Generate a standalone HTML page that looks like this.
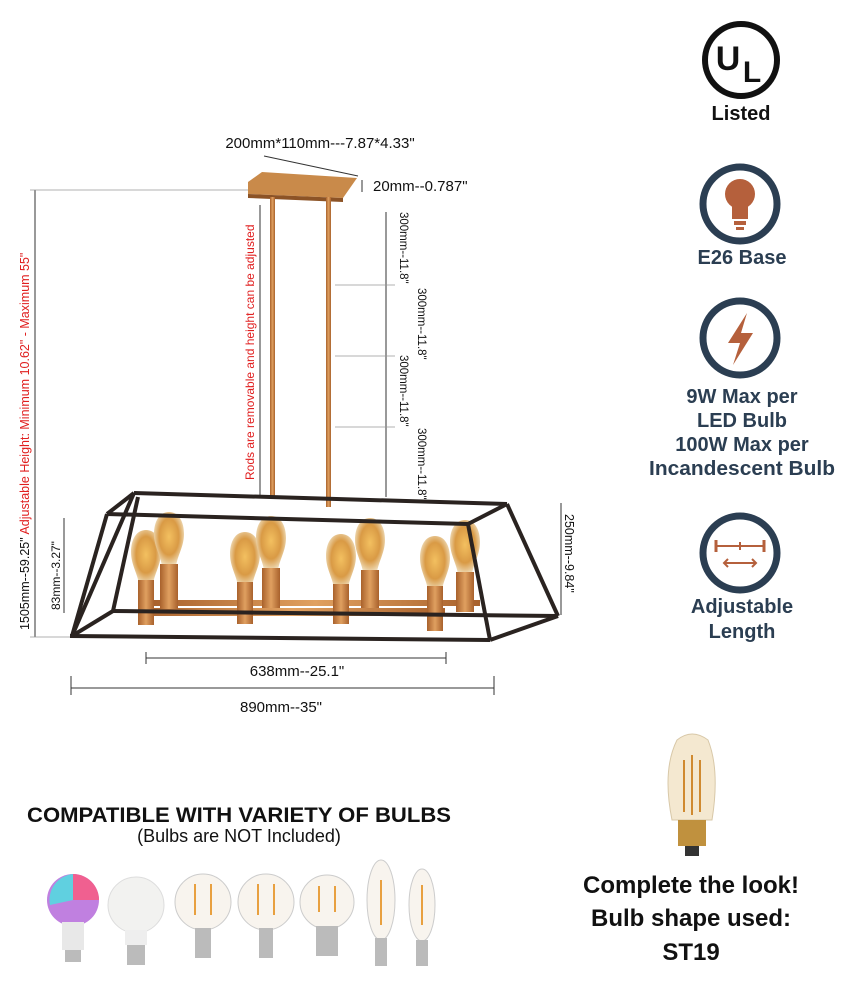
<!DOCTYPE html>
<html><head><meta charset="utf-8"><style>
body{margin:0;background:#fff;}
svg{display:block;}
text{font-family:"Liberation Sans",sans-serif;}
</style></head><body>
<svg width="858" height="990" viewBox="0 0 858 990" xmlns="http://www.w3.org/2000/svg">
<defs>
<radialGradient id="bulb" cx="50%" cy="45%" r="55%"><stop offset="0" stop-color="#f3c060"/><stop offset="0.6" stop-color="#d99a45"/><stop offset="1" stop-color="#f0e0c0"/></radialGradient>
<linearGradient id="brass" x1="0" x2="1"><stop offset="0" stop-color="#a8612c"/><stop offset="0.5" stop-color="#e0a060"/><stop offset="1" stop-color="#a8612c"/></linearGradient>
<path id="st" d="M0 -30 C-10 -30 -15 -20 -15 -8 C-15 5 -8 14 -7 25 L7 25 C8 14 15 5 15 -8 C15 -20 10 -30 0 -30Z"/>
</defs>

<!-- UL -->
<circle cx="741" cy="60" r="36" fill="none" stroke="#111" stroke-width="6"/>
<text x="728" y="70" font-size="34" font-weight="bold" fill="#111" text-anchor="middle">U</text>
<text x="752" y="82" font-size="30" font-weight="bold" fill="#111" text-anchor="middle">L</text>
<text x="741" y="120" font-size="20" font-weight="bold" fill="#111" text-anchor="middle">Listed</text>

<!-- E26 -->
<circle cx="740" cy="204" r="37" fill="#fff" stroke="#2b3e52" stroke-width="7"/>
<circle cx="740" cy="194" r="15" fill="#b5603c"/>
<rect x="732" y="205" width="16" height="14" fill="#b5603c"/>
<rect x="734" y="221" width="12" height="4" fill="#b5603c"/><rect x="736" y="227" width="8" height="3" fill="#b5603c"/>
<text x="742" y="264" font-size="20" font-weight="bold" fill="#2b3e52" text-anchor="middle">E26 Base</text>

<!-- power -->
<circle cx="740" cy="338" r="37" fill="#fff" stroke="#2b3e52" stroke-width="7"/>
<path d="M747 313 L728 343 L740 343 L733 365 L753 333 L741 333 Z" fill="#b5603c"/>
<text x="742" y="403" font-size="20" font-weight="bold" fill="#2b3e52" text-anchor="middle">9W Max per</text>
<text x="742" y="427" font-size="20" font-weight="bold" fill="#2b3e52" text-anchor="middle">LED Bulb</text>
<text x="742" y="451" font-size="20" font-weight="bold" fill="#2b3e52" text-anchor="middle">100W Max per</text>
<text x="742" y="475" font-size="20" font-weight="bold" fill="#2b3e52" text-anchor="middle" textLength="186" lengthAdjust="spacingAndGlyphs">Incandescent Bulb</text>

<!-- adjustable -->
<circle cx="740" cy="553" r="37" fill="#fff" stroke="#2b3e52" stroke-width="7"/>
<line x1="716" y1="546" x2="764" y2="546" stroke="#b5603c" stroke-width="2"/>
<line x1="716" y1="540" x2="716" y2="552" stroke="#b5603c" stroke-width="3"/><line x1="764" y1="540" x2="764" y2="552" stroke="#b5603c" stroke-width="3"/>
<line x1="740" y1="542" x2="740" y2="550" stroke="#b5603c" stroke-width="2"/>
<path d="M724 563 H756 M728 559 L724 563 L728 567 M752 559 L756 563 L752 567" stroke="#b5603c" stroke-width="2" fill="none"/>
<text x="742" y="613" font-size="20" font-weight="bold" fill="#2b3e52" text-anchor="middle">Adjustable</text>
<text x="742" y="638" font-size="20" font-weight="bold" fill="#2b3e52" text-anchor="middle">Length</text>

<!-- top dims -->
<text x="320" y="148" font-size="15" fill="#111" text-anchor="middle">200mm*110mm---7.87*4.33"</text>
<line x1="264" y1="156" x2="358" y2="176" stroke="#333" stroke-width="1"/>
<text x="373" y="191" font-size="15" fill="#111">20mm--0.787"</text>
<line x1="362" y1="180" x2="362" y2="192" stroke="#333"/>
<!-- canopy -->
<polygon points="248,182 262,172 357,178 343,198 248,194" fill="#c98a4a"/>
<polygon points="248,194 343,198 343,202 248,198" fill="#8c5326"/>
<rect x="270" y="197" width="5" height="300" fill="url(#brass)"/>
<rect x="326" y="197" width="5" height="310" fill="url(#brass)"/>

<!-- left dims -->
<line x1="35" y1="190" x2="35" y2="637" stroke="#333"/>
<line x1="30" y1="190" x2="248" y2="190" stroke="#999" stroke-width="0.7"/>
<line x1="30" y1="637" x2="70" y2="637" stroke="#999" stroke-width="0.7"/>
<text transform="translate(29,630) rotate(-90)" font-size="12.5"><tspan fill="#111">1505mm--59.25" </tspan><tspan fill="#e02020">Adjustable Height: Minimum 10.62"  -  Maximum 55"</tspan></text>
<line x1="260" y1="205" x2="260" y2="495" stroke="#333"/>
<text transform="translate(254,480) rotate(-90)" font-size="12" fill="#e02020">Rods are removable and height can be adjusted</text>
<line x1="64" y1="518" x2="64" y2="613" stroke="#333"/>
<text transform="translate(60,610) rotate(-90)" font-size="12" fill="#111">83mm--3.27"</text>

<!-- right rod dims -->
<line x1="386" y1="212" x2="386" y2="497" stroke="#333"/>
<g stroke="#999" stroke-width="0.7"><line x1="335" y1="285" x2="395" y2="285"/><line x1="335" y1="356" x2="395" y2="356"/><line x1="335" y1="427" x2="395" y2="427"/></g>
<text transform="translate(400,212) rotate(90)" font-size="11.5" fill="#111">300mm--11.8"</text>
<text transform="translate(418,288) rotate(90)" font-size="11.5" fill="#111">300mm--11.8"</text>
<text transform="translate(400,355) rotate(90)" font-size="11.5" fill="#111">300mm--11.8"</text>
<text transform="translate(418,428) rotate(90)" font-size="11.5" fill="#111">300mm--11.8"</text>
<line x1="561" y1="503" x2="561" y2="615" stroke="#333"/>
<text transform="translate(565,514) rotate(90)" font-size="12.5" fill="#111">250mm--9.84"</text>

<!-- inner brass frame -->
<g fill="url(#brass)">
<rect x="140" y="608" width="305" height="8"/>
<rect x="150" y="600" width="330" height="6" />
</g>
<!-- bulbs & sockets -->
<g>
<g transform="translate(146,560)"><use href="#st" fill="url(#bulb)"/><rect x="-8" y="20" width="16" height="45" fill="url(#brass)"/></g>
<g transform="translate(169,542)"><use href="#st" fill="url(#bulb)"/><rect x="-9" y="22" width="18" height="45" fill="url(#brass)"/></g>
<g transform="translate(245,562)"><use href="#st" fill="url(#bulb)"/><rect x="-8" y="20" width="16" height="42" fill="url(#brass)"/></g>
<g transform="translate(271,546)"><use href="#st" fill="url(#bulb)"/><rect x="-9" y="22" width="18" height="40" fill="url(#brass)"/></g>
<g transform="translate(341,564)"><use href="#st" fill="url(#bulb)"/><rect x="-8" y="20" width="16" height="40" fill="url(#brass)"/></g>
<g transform="translate(370,548)"><use href="#st" fill="url(#bulb)"/><rect x="-9" y="22" width="18" height="38" fill="url(#brass)"/></g>
<g transform="translate(435,566)"><use href="#st" fill="url(#bulb)"/><rect x="-8" y="20" width="16" height="45" fill="url(#brass)"/></g>
<g transform="translate(465,550)"><use href="#st" fill="url(#bulb)"/><rect x="-9" y="22" width="18" height="40" fill="url(#brass)"/></g>
</g>
<!-- black frame -->
<g stroke="#2a2320" stroke-width="4" fill="none" stroke-linejoin="round">
<line x1="134" y1="493" x2="507" y2="504"/>
<line x1="107" y1="514" x2="468" y2="524"/>
<line x1="113" y1="611" x2="558" y2="616"/>
<line x1="70" y1="636" x2="490" y2="640"/>
<line x1="134" y1="493" x2="72" y2="636"/>
<line x1="134" y1="493" x2="107" y2="514"/>
<line x1="107" y1="514" x2="72" y2="636"/>
<line x1="138" y1="497" x2="113" y2="611"/>
<line x1="507" y1="504" x2="558" y2="616"/>
<line x1="507" y1="504" x2="468" y2="524"/>
<line x1="468" y1="524" x2="490" y2="640"/>
<line x1="558" y1="616" x2="490" y2="640"/>
<line x1="113" y1="611" x2="72" y2="636"/>
</g>

<!-- bottom dims -->
<line x1="146" y1="658" x2="446" y2="658" stroke="#333"/>
<line x1="146" y1="652" x2="146" y2="664" stroke="#333"/><line x1="446" y1="652" x2="446" y2="664" stroke="#333"/>
<text x="297" y="676" font-size="15" fill="#111" text-anchor="middle">638mm--25.1"</text>
<line x1="71" y1="688" x2="494" y2="688" stroke="#333"/>
<line x1="71" y1="676" x2="71" y2="695" stroke="#333"/><line x1="494" y1="676" x2="494" y2="695" stroke="#333"/>
<text x="281" y="712" font-size="15" fill="#111" text-anchor="middle">890mm--35"</text>

<!-- compatible -->
<text x="239" y="822" font-size="21" font-weight="bold" fill="#111" text-anchor="middle" textLength="424" lengthAdjust="spacingAndGlyphs">COMPATIBLE WITH VARIETY OF BULBS</text>
<text x="239" y="842" font-size="18" fill="#111" text-anchor="middle">(Bulbs are NOT Included)</text>
<g>
<circle cx="73" cy="900" r="26" fill="#c080e0"/><path d="M50 905 A26 26 0 0 1 73 874 L73 900Z" fill="#60d0e0"/><path d="M73 874 A26 26 0 0 1 99 900 L73 900Z" fill="#f06090"/>
<rect x="62" y="922" width="22" height="28" fill="#e8e8e8"/><rect x="65" y="950" width="16" height="12" fill="#bbb"/>
<circle cx="136" cy="905" r="28" fill="#f2f2f0" stroke="#ddd"/><rect x="125" y="930" width="22" height="15" fill="#eee"/><rect x="127" y="945" width="18" height="20" fill="#bbb"/>
<circle cx="203" cy="902" r="28" fill="#f8f4ee" stroke="#ccc"/><path d="M195 884 V915 M211 884 V915" stroke="#e8a040" stroke-width="2"/><rect x="195" y="928" width="16" height="30" fill="#bbb"/>
<circle cx="266" cy="902" r="28" fill="#f8f4ee" stroke="#ccc"/><path d="M258 884 V915 M274 884 V915" stroke="#e8a040" stroke-width="2"/><rect x="259" y="928" width="14" height="30" fill="#bbb"/>
<circle cx="327" cy="902" r="27" fill="#f8f4ee" stroke="#ccc"/><path d="M319 886 V912 M335 886 V912" stroke="#e8a040" stroke-width="2"/><rect x="316" y="926" width="22" height="30" fill="#bbb"/>
<ellipse cx="381" cy="900" rx="14" ry="40" fill="#f8f4ee" stroke="#ccc"/><path d="M381 880 V925" stroke="#e8a040" stroke-width="2"/><rect x="375" y="938" width="12" height="28" fill="#bbb"/>
<ellipse cx="422" cy="905" rx="13" ry="36" fill="#f8f4ee" stroke="#ccc"/><path d="M422 885 V925" stroke="#e8a040" stroke-width="2"/><rect x="416" y="940" width="12" height="26" fill="#bbb"/>
</g>

<!-- ST19 bulb -->
<path d="M677 740 Q692 728 708 740 Q720 770 712 820 L672 820 Q662 770 677 740Z" fill="#f4e8d0" stroke="#d8c8a8"/>
<path d="M684 760 V812 M692 755 V815 M700 760 V812" stroke="#d08a30" stroke-width="2"/>
<rect x="678" y="820" width="28" height="26" fill="#c0913e"/>
<rect x="685" y="846" width="14" height="10" fill="#333"/>
<text x="691" y="893" font-size="24" font-weight="bold" fill="#111" text-anchor="middle">Complete the look!</text>
<text x="691" y="926" font-size="24" font-weight="bold" fill="#111" text-anchor="middle">Bulb shape used:</text>
<text x="691" y="960" font-size="24" font-weight="bold" fill="#111" text-anchor="middle">ST19</text>
</svg>
</body></html>
